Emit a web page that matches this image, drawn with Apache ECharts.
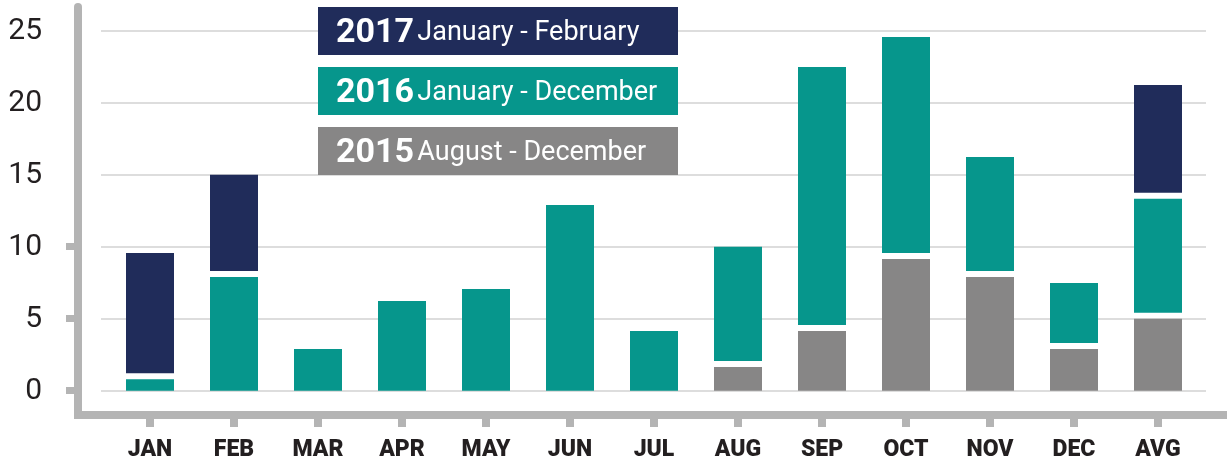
<!DOCTYPE html>
<html>
<head>
<meta charset="utf-8">
<script src="https://cdn.jsdelivr.net/npm/echarts@6/dist/echarts.min.js"></script>
<style>
html,body{margin:0;padding:0;background:#fff;}
#chart{width:1227px;height:464px;}
</style>
</head>
<body>
<div id="chart"></div>
<script>
const categories = ['JAN','FEB','MAR','APR','MAY','JUN','JUL','AUG','SEP','OCT','NOV','DEC','AVG'];
const values2015 = [0, 0, 0, 0, 0, 0, 0, 1.65, 4.15, 9.15, 7.9, 2.9, 5.0];
const values2016 = [0.8, 7.9, 2.9, 6.23, 7.06, 12.9, 4.15, 8.35, 18.33, 15.41, 8.33, 4.58, 8.33];
const values2017 = [8.76, 7.1, 0, 0, 0, 0, 0, 0, 0, 0, 0, 0, 7.9];
const yTickLabels = [0, 5, 10, 15, 20, 25];
const yStubTicks = [0, 5, 10];
const legendYears = ['2017', '2016', '2015'];
const legendRanges = ['January - February', 'January - December', 'August - December'];

const NAVY = '#202c5a', TEAL = '#06968c', GRAY = '#878686';
const AXIS = '#b4b4b4', GRID = '#dddddd', TEXT = '#231f20';
const BAR_RATIO = 48 / 84, GAP = 6;
const FRAME_MIN = -1.65, FRAME_MAX = 26.65;

const stackOrder = [
  {name: '2015', values: values2015, color: GRAY},
  {name: '2016', values: values2016, color: TEAL},
  {name: '2017', values: values2017, color: NAVY}
];
const bases = categories.map(() => 0);
const series = stackOrder.map(s => {
  const data = [];
  s.values.forEach((v, i) => {
    if (v > 0) data.push([i, bases[i], bases[i] + v]);
    bases[i] += v;
  });
  return {
    name: s.name, type: 'custom', xAxisIndex: 0, yAxisIndex: 0, z: 3,
    itemStyle: {color: s.color},
    encode: {x: 0, y: [1, 2]},
    data: data,
    renderItem: function (params, api) {
      const i = api.value(0), b = api.value(1), t = api.value(2);
      const p0 = api.coord([i, b]);
      const p1 = api.coord([i, t]);
      const w = api.size([1, 0])[0] * BAR_RATIO;
      const y0 = b > 0 ? p0[1] - GAP : p0[1];
      return {type: 'rect', shape: {x: p0[0] - w / 2, y: p1[1], width: w, height: y0 - p1[1]}, style: api.style()};
    }
  };
});
// category tick stubs hanging below the frame line (value 0 of grid 0 + frame offset)
series.push({
  name: 'ticks', type: 'custom', xAxisIndex: 0, yAxisIndex: 0, z: 6, clip: false, silent: true,
  data: categories.map((c, i) => [i, FRAME_MIN]),
  encode: {x: 0, y: 1},
  renderItem: function (params, api) {
    const p = api.coord([api.value(0), api.value(1)]);
    return {type: 'rect', shape: {x: p[0] - 4, y: p[1], width: 8, height: 12.5}, style: {fill: AXIS}};
  }
});

const legendColors = {'2017': NAVY, '2016': TEAL, '2015': GRAY};
const graphic = legendYears.map((yr, k) => ({
  type: 'group', left: 318, top: 7 + 60 * k, z: 100,
  children: [
    {type: 'rect', z: 100, shape: {x: 0, y: 0, width: 360, height: 48}, style: {fill: legendColors[yr]}},
    {type: 'text', z: 101, x: 18, y: 26, style: {
      text: '{y|' + yr + '} {r|' + legendRanges[k] + '}',
      verticalAlign: 'middle', fill: '#fff',
      rich: {
        y: {fontFamily: 'Roboto', fontWeight: 'bold', fontSize: 34, fill: '#fff'},
        r: {fontFamily: 'Roboto', fontSize: 27, fill: '#fff'}
      }
    }}
  ]
}));

const chart = echarts.init(document.getElementById('chart'), null, {renderer: 'canvas'});
chart.setOption({
  backgroundColor: '#fff',
  animation: false,
  grid: [
    {left: 108, right: 27, top: 7, bottom: 49.5},
    {left: 101, right: 21, top: 31, bottom: 73},
    {left: 78, right: 0, top: 7, bottom: 49.5}
  ],
  xAxis: [
    {gridIndex: 0, type: 'category', data: categories,
     axisLine: {show: false, onZero: false}, axisTick: {show: false},
     axisLabel: {interval: 0, margin: 24, fontSize: 23, fontWeight: 900, color: TEXT, fontFamily: 'Roboto'},
     splitLine: {show: false}},
    {gridIndex: 1, type: 'value', show: false},
    {gridIndex: 2, type: 'value', min: 0, max: 1,
     axisLine: {show: true, onZero: false, lineStyle: {width: 8, color: AXIS, cap: 'square'}},
     axisTick: {show: false}, axisLabel: {show: false}, splitLine: {show: false}}
  ],
  yAxis: [
    {gridIndex: 0, type: 'value', min: FRAME_MIN, max: FRAME_MAX, show: false},
    {gridIndex: 1, type: 'value', min: yTickLabels[0], max: yTickLabels[yTickLabels.length - 1], interval: 5,
     axisLine: {show: false}, axisTick: {show: false},
     axisLabel: {margin: 59, fontSize: 30, color: TEXT, fontFamily: 'Roboto'},
     splitLine: {show: true, lineStyle: {color: GRID, width: 2}}},
    {gridIndex: 2, type: 'value', min: FRAME_MIN, max: FRAME_MAX,
     axisLine: {show: true, onZero: false, lineStyle: {width: 8, color: AXIS}},
     axisTick: {show: true, customValues: yStubTicks, length: 12, lineStyle: {width: 7, color: AXIS}},
     axisLabel: {show: false}, splitLine: {show: false}}
  ],
  graphic: graphic,
  series: series
});
</script>
</body>
</html>
